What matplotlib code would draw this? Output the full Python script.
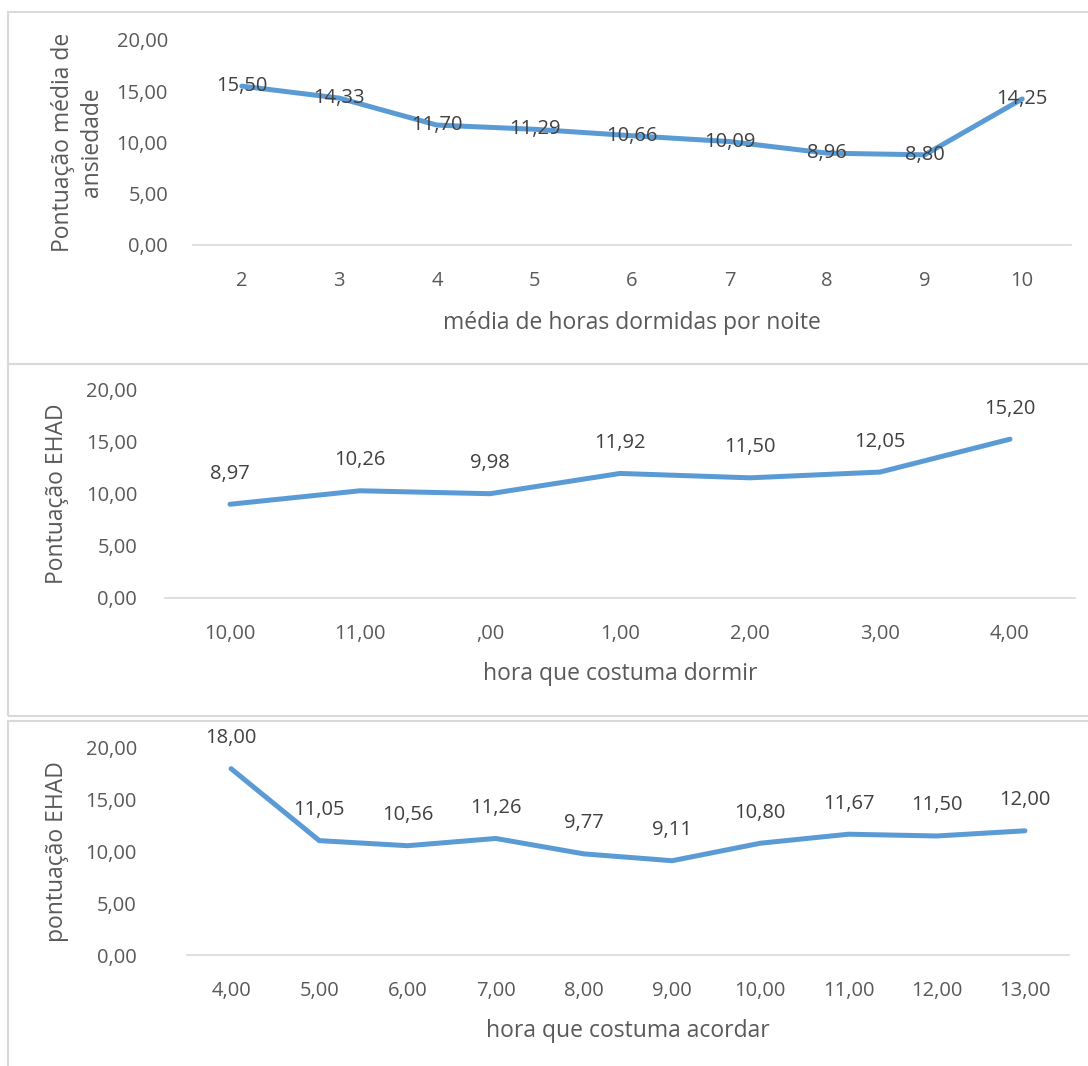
import matplotlib
matplotlib.use("Agg")
import matplotlib.pyplot as plt
from matplotlib.patches import Rectangle

# chart 1: média de horas dormidas por noite
horas_cats = ["2", "3", "4", "5", "6", "7", "8", "9", "10"]
horas_vals = [15.50, 14.33, 11.70, 11.29, 10.66, 10.09, 8.96, 8.80, 14.25]

# chart 2: hora que costuma dormir
dormir_cats = ["10,00", "11,00", ",00", "1,00", "2,00", "3,00", "4,00"]
dormir_vals = [8.97, 10.26, 9.98, 11.92, 11.50, 12.05, 15.20]

# chart 3: hora que costuma acordar
acordar_cats = ["4,00", "5,00", "6,00", "7,00", "8,00", "9,00", "10,00", "11,00", "12,00", "13,00"]
acordar_vals = [18.00, 11.05, 10.56, 11.26, 9.77, 9.11, 10.80, 11.67, 11.50, 12.00]

y_ticks = [0, 5, 10, 15, 20]

W, H = 1088, 1066
plt.rcParams['font.family'] = ['Open Sans', 'DejaVu Sans']
fig = plt.figure(figsize=(W / 100, H / 100), dpi=100)

LINE = '#5B9BD5'
GRID = '#D9D9D9'
TICK = '#595959'
LABEL = '#404040'
FS_NUM = 14.5   # numbers
FS_TXT = 16.5   # axis titles


def fmt(v):
    return f"{v:.2f}".replace('.', ',')


def px_axes(x0, x1, ytop, ybot):
    return fig.add_axes([x0 / W, 1 - ybot / H, (x1 - x0) / W, (ybot - ytop) / H])


def draw(ax, cats, vals, xlabel, ylabel, ylab_x, ypad, label_pos, xlab_pad):
    x = list(range(len(cats)))
    ax.plot(x, vals, color=LINE, lw=3.6, solid_capstyle='round', solid_joinstyle='round', zorder=3)
    ax.set_xlim(-0.5, len(cats) - 0.5)
    ax.set_ylim(0, 20)
    ax.set_yticks(y_ticks)
    ax.set_yticklabels([fmt(t) for t in y_ticks])
    ax.set_xticks(x)
    ax.set_xticklabels(cats)
    for s in ['top', 'right', 'left']:
        ax.spines[s].set_visible(False)
    ax.spines['bottom'].set_color(GRID)
    ax.spines['bottom'].set_linewidth(1.2)
    ax.tick_params(axis='both', length=0, labelsize=FS_NUM, labelcolor=TICK)
    ax.tick_params(axis='y', pad=ypad)
    ax.tick_params(axis='x', pad=19)
    ax.set_xlabel(xlabel, fontsize=FS_TXT, color=TICK, labelpad=xlab_pad)
    ax.set_ylabel(ylabel, fontsize=FS_TXT, color=TICK, linespacing=1.3)
    ax.yaxis.set_label_coords(ylab_x, 0.5)
    ax.patch.set_alpha(0)
    for xi, v in zip(x, vals):
        if label_pos == 'center':
            ax.annotate(fmt(v), (xi, v), ha='center', va='center', fontsize=FS_NUM, color=LABEL, zorder=4)
        else:
            ax.annotate(fmt(v), (xi, v), xytext=(0, 22), textcoords='offset points',
                        ha='center', va='center', fontsize=FS_NUM, color=LABEL, zorder=4)


# chart frames
for ytop, ybot in [(12, 364), (364, 716), (721, 1080)]:
    fig.patches.append(Rectangle((8 / W, 1 - ybot / H), (W + 20 - 8) / W, (ybot - ytop) / H,
                                 transform=fig.transFigure, fill=False, ec=GRID, lw=1.5))

ax1 = px_axes(193, 1071, 40, 245)
draw(ax1, horas_cats, horas_vals, "média de horas dormidas por noite",
     "Pontuação média de\nansiedade", -(193 - 104) / (1071 - 193), 18, 'center', 14)

ax2 = px_axes(165, 1075, 389, 598)
draw(ax2, dormir_cats, dormir_vals, "hora que costuma dormir",
     "Pontuação EHAD", -(165 - 69) / (1075 - 165), 20, 'above', 12.5)

ax3 = px_axes(187, 1069, 748, 955)
draw(ax3, acordar_cats, acordar_vals, "hora que costuma acordar",
     "pontuação EHAD", -(187 - 69) / (1069 - 187), 36, 'above', 12.5)

fig.savefig("out.png", dpi=100, facecolor='white')
